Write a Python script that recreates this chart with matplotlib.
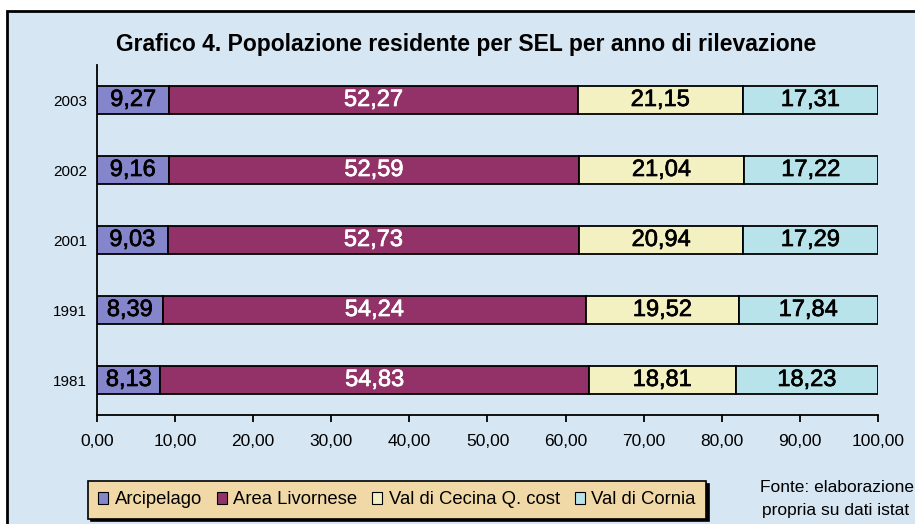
import matplotlib
matplotlib.use("Agg")
import matplotlib.pyplot as plt
import matplotlib.patheffects as pe
from matplotlib.patches import Rectangle, Patch

# dati (quote % per SEL)
anni = ["1981", "1991", "2001", "2002", "2003"]
sel = ["Arcipelago", "Area Livornese", "Val di Cecina Q. cost", "Val di Cornia"]
arcipelago = [8.13, 8.39, 9.03, 9.16, 9.27]
area_livornese = [54.83, 54.24, 52.73, 52.59, 52.27]
val_cecina = [18.81, 19.52, 20.94, 21.04, 21.15]
val_cornia = [18.23, 17.84, 17.29, 17.22, 17.31]
serie = [arcipelago, area_livornese, val_cecina, val_cornia]
colori = ["#8585cc", "#933268", "#f3f1c2", "#b9e3ea"]
col_testo = ["black", "white", "black", "black"]
xticks = [0, 10, 20, 30, 40, 50, 60, 70, 80, 90, 100]

plt.rcParams["font.family"] = ["Liberation Sans", "DejaVu Sans"]

fig = plt.figure(figsize=(9.15, 5.24), dpi=100)
fig.patch.set_facecolor("white")

# cornice del grafico
bg = "#d6e6f3"
cornice = Rectangle((7 / 915, -0.05), 1.05, 1 - 11 / 524 + 0.05,
                    transform=fig.transFigure, facecolor=bg,
                    edgecolor="black", linewidth=2, zorder=-5)
fig.patches.append(cornice)

ax = fig.add_axes([97 / 915, 1 - 415 / 524, 781 / 915, 350 / 524])
ax.set_facecolor("none")

left = [0] * len(anni)
for vals, c, tc in zip(serie, colori, col_testo):
    ax.barh(anni, vals, left=left, height=0.41, color=c, edgecolor="black", linewidth=1.3)
    for i, v in enumerate(vals):
        ax.text(left[i] + v / 2, i, f"{v:.2f}".replace(".", ","), ha="center", va="center",
                color=tc, fontsize=17,
                path_effects=[pe.withStroke(linewidth=0.5, foreground=tc)])
    left = [l + v for l, v in zip(left, vals)]

ax.set_xlim(0, 100)
ax.set_ylim(-0.5, len(anni) - 0.5)
ax.set_xticks(xticks)
ax.set_xticklabels([f"{t:.2f}".replace(".", ",") for t in xticks], fontsize=12.5)
ax.tick_params(axis="x", direction="out", length=5, width=1.3, pad=9)
ax.tick_params(axis="y", length=0, pad=7, labelsize=11)
for s in ["top", "right"]:
    ax.spines[s].set_visible(False)
ax.spines["left"].set_linewidth(1.3)
ax.spines["bottom"].set_linewidth(1.3)

fig.text(466 / 915, 1 - 44 / 524, "Grafico 4. Popolazione residente per SEL per anno di rilevazione",
         ha="center", va="center", fontsize=16.5, fontweight="bold")

handles = [Patch(facecolor=c, edgecolor="black", linewidth=0.8) for c in colori]
leg = fig.legend(handles, sel, loc="center", bbox_to_anchor=(397 / 915, 1 - 500 / 524),
                 ncol=4, frameon=True, fancybox=False, shadow={"color": "black", "alpha": 1},
                 fontsize=13.3, handlelength=0.55, handleheight=0.55, handletextpad=0.35,
                 columnspacing=0.8, borderpad=0.55, borderaxespad=0)
leg.get_frame().set_facecolor("#f0d9a6")
leg.get_frame().set_edgecolor("black")
leg.get_frame().set_linewidth(1.2)

fig.text(760 / 915, 1 - 488 / 524, "Fonte: elaborazione", ha="left", va="center", fontsize=12.5)
fig.text(762 / 915, 1 - 510 / 524, "propria su dati istat", ha="left", va="center", fontsize=12.5)

fig.savefig("out.png", dpi=100)
